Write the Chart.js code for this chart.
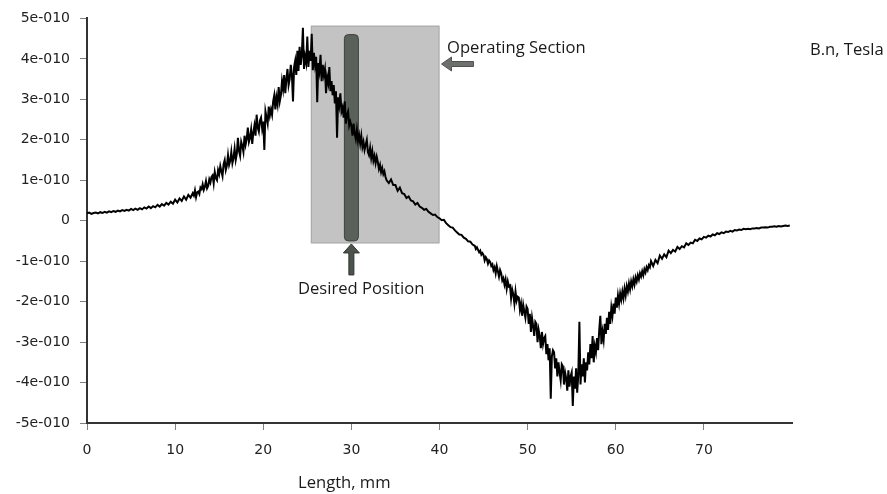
<!DOCTYPE html>
<html>
<head>
<meta charset="utf-8">
<script src="https://cdn.jsdelivr.net/npm/chart.js@4.4.1/dist/chart.umd.min.js"></script>
<style>
  html, body { margin: 0; padding: 0; background: #ffffff; }
  #wrap { width: 887px; height: 494px; position: relative; }
</style>
</head>
<body>
<div id="wrap"><canvas id="c" width="887" height="494"></canvas></div>
<script>
// Normal flux density B.n along the part, in units of 1e-10 T.
// Quiet stretches are sampled every 0.25 mm, the noisy stretches every 0.125 mm.

// 0 – 12 mm, step 0.25
const bnLeadIn = [
  0.18, 0.20, 0.17, 0.19,   0.20, 0.18, 0.21, 0.19,   0.22, 0.20, 0.23, 0.21,
  0.24, 0.22, 0.25, 0.23,   0.26, 0.24, 0.27, 0.25,   0.29, 0.26, 0.30, 0.27,
  0.31, 0.28, 0.33, 0.30,   0.35, 0.31, 0.36, 0.33,   0.39, 0.35, 0.41, 0.37,
  0.44, 0.40, 0.47, 0.42,   0.52, 0.45, 0.55, 0.49,   0.60, 0.52, 0.64, 0.57
];
// 12 – 34 mm, step 0.125 (positive peak)
const bnPeak = [
  0.68, 0.62, 0.75, 0.58, 0.70, 0.72, 0.66, 0.82,
  0.78, 0.90, 0.76, 0.84, 0.98, 0.80, 0.86, 1.02,
  0.94, 1.08, 1.12, 0.92, 1.20, 1.05, 1.00, 1.25,
  1.15, 1.35, 1.22, 1.10, 1.40, 1.50, 1.25, 1.36,
  1.62, 1.38, 1.48, 1.70, 1.42, 1.55, 1.78, 1.50,
  1.65, 2.05, 1.72, 1.60, 1.95, 1.85, 1.70, 2.10,
  1.88, 2.02, 2.30, 1.95, 2.05, 2.25, 1.90, 2.18,
  2.35, 2.10, 2.62, 2.30, 2.20, 2.48, 2.55, 2.28,
  2.45, 1.75, 2.70, 2.55, 2.40, 2.82, 2.60, 2.75,
  2.62, 2.95, 3.10, 2.75, 3.05, 2.88, 3.30, 2.95,
  3.10, 3.45, 3.25, 3.60, 3.15, 3.50, 3.75, 3.35,
  3.50, 3.85, 3.62, 2.95, 3.80, 3.95, 3.60, 4.20,
  3.70, 4.30, 3.85, 4.10, 4.77, 3.75, 4.05, 3.90,
  4.55, 3.80, 4.20, 3.95, 4.62, 3.72, 4.15, 3.85,
  4.05, 2.93, 3.90, 3.70, 4.10, 3.45, 3.85, 3.60,
  3.75, 3.15, 3.55, 3.40, 3.80, 3.20, 3.45, 3.10,
  3.35, 2.90, 3.20, 2.05, 3.05, 2.85, 3.15, 2.70,
  2.80, 2.55, 2.95, 2.40, 2.62, 2.70, 2.35, 2.45,
  2.35, 2.10, 2.40, 2.15, 2.02, 2.25, 1.98, 2.12,
  1.90, 2.10, 1.82, 1.95, 1.75, 1.88, 2.00, 1.70,
  1.62, 1.80, 1.55, 1.72, 1.48, 1.60, 1.42, 1.58,
  1.45, 1.28, 1.38, 1.20, 1.30, 1.15, 1.22, 1.08
];
// 34 – 44 mm, step 0.25 (zero crossing)
const bnCrossing = [
  1.00, 0.93, 1.02, 0.88,   0.88, 0.74, 0.82, 0.68,   0.66, 0.56, 0.60, 0.50,
  0.48, 0.40, 0.44, 0.35,   0.32, 0.27, 0.29, 0.22,   0.18, 0.14, 0.15, 0.09,
  0.06, 0.01, 0.02, -0.06,  -0.11, -0.16, -0.17, -0.24,  -0.29, -0.34, -0.35, -0.42,
  -0.45, -0.51, -0.52, -0.59
];
// 44 – 64 mm, step 0.125 (negative trough)
const bnTrough = [
  -0.62, -0.70, -0.66, -0.72, -0.78, -0.74, -0.84, -0.80,
  -0.85, -0.98, -0.90, -0.95, -1.06, -0.98, -1.02, -1.12,
  -1.08, -1.22, -1.15, -1.30, -1.12, -1.25, -1.38, -1.22,
  -1.30, -1.48, -1.42, -1.58, -1.45, -1.68, -1.50, -1.62,
  -1.60, -1.92, -1.70, -1.82, -2.05, -1.75, -1.98, -1.88,
  -1.90, -2.20, -2.05, -2.35, -2.08, -2.25, -2.40, -2.12,
  -2.18, -2.55, -2.30, -2.75, -2.40, -2.60, -2.85, -2.50,
  -2.55, -3.00, -2.70, -2.85, -3.15, -2.75, -3.05, -2.90,
  -2.85, -3.30, -3.05, -3.45, -3.15, -4.40, -3.35, -3.20,
  -3.25, -3.65, -3.40, -3.85, -3.50, -3.75, -3.95, -3.55,
  -3.60, -4.05, -3.75, -3.90, -4.20, -3.70, -4.10, -3.85,
  -3.75, -4.58, -3.85, -4.15, -3.65, -4.25, -3.80, -2.50,
  -4.05, -3.55, -3.85, -3.40, -4.00, -3.50, -3.70, -3.25,
  -3.55, -3.05, -3.40, -2.85, -3.50, -3.10, -3.25, -2.90,
  -3.20, -2.70, -2.35, -3.05, -2.75, -2.95, -2.55, -2.80,
  -2.40, -2.70, -2.25, -2.55, -2.15, -2.35, -2.05, -2.30,
  -1.90, -2.15, -1.85, -2.05, -1.80, -1.95, -1.75, -1.92,
  -1.68, -1.85, -1.62, -1.75, -1.55, -1.70, -1.50, -1.62,
  -1.45, -1.58, -1.40, -1.50, -1.35, -1.45, -1.30, -1.38,
  -1.25, -1.35, -1.20, -1.28, -1.15, -1.22, -1.10, -1.15
];
// 64 – 80 mm, step 0.25 (recovery tail)
const bnTail = [
  -1.00, -1.12, -0.97, -1.05,  -0.86, -0.94, -0.83, -0.90,
  -0.74, -0.80, -0.72, -0.76,  -0.65, -0.70, -0.63, -0.66,  -0.56, -0.60, -0.54, -0.56,
  -0.47, -0.50, -0.44, -0.46,  -0.40, -0.42, -0.37, -0.39,  -0.34, -0.36, -0.31, -0.33,
  -0.29, -0.31, -0.27, -0.28,  -0.25, -0.27, -0.23, -0.24,  -0.22, -0.23, -0.20, -0.21,
  -0.20, -0.21, -0.19, -0.19,  -0.18, -0.19, -0.17, -0.17,  -0.16, -0.17, -0.15, -0.15,
  -0.14, -0.15, -0.13, -0.14,  -0.13, -0.12, -0.13, -0.12
];

// Where each stretch starts (mm) and its sample spacing (mm)
const segmentStarts = [0, 12, 34, 44, 64];
const segmentSteps = [0.25, 0.125, 0.25, 0.125, 0.25];
const segmentValues = [bnLeadIn, bnPeak, bnCrossing, bnTrough, bnTail];

// Axis ranges and tick values
const xTicks = [0, 10, 20, 30, 40, 50, 60, 70];
const xMax = 80;
const yTicks = [5, 4, 3, 2, 1, 0, -1, -2, -3, -4, -5];

// Highlighted regions (mm, and 1e-10 T)
const operatingSection = { from: 25.4, to: 40, top: 4.82, bottom: -0.56 };
const desiredPosition = { at: 30, top: 4.6, bottom: -0.5 };

const points = [];
segmentValues.forEach((vals, s) => {
  vals.forEach((v, i) => points.push({ x: segmentStarts[s] + i * segmentSteps[s], y: v }));
});

const labelFont = '"Open Sans", "Liberation Sans", sans-serif';

function arrowUp(ctx, x, tipY, tailY) {
  const headH = 9, headW = 8, shaft = 2.5;
  ctx.beginPath();
  ctx.moveTo(x, tipY);
  ctx.lineTo(x + headW, tipY + headH);
  ctx.lineTo(x + shaft, tipY + headH);
  ctx.lineTo(x + shaft, tailY);
  ctx.lineTo(x - shaft, tailY);
  ctx.lineTo(x - shaft, tipY + headH);
  ctx.lineTo(x - headW, tipY + headH);
  ctx.closePath();
  ctx.fillStyle = '#4c534c';
  ctx.strokeStyle = '#2f342f';
  ctx.lineWidth = 1;
  ctx.fill();
  ctx.stroke();
}

function arrowLeft(ctx, tipX, y, tailX) {
  const headW = 10, headH = 7, shaft = 2.5;
  ctx.beginPath();
  ctx.moveTo(tipX, y);
  ctx.lineTo(tipX + headW, y - headH);
  ctx.lineTo(tipX + headW, y - shaft);
  ctx.lineTo(tailX, y - shaft);
  ctx.lineTo(tailX, y + shaft);
  ctx.lineTo(tipX + headW, y + shaft);
  ctx.lineTo(tipX + headW, y + headH);
  ctx.closePath();
  ctx.fillStyle = '#6e706e';
  ctx.strokeStyle = '#505250';
  ctx.lineWidth = 1;
  ctx.fill();
  ctx.stroke();
}

const regionsPlugin = {
  id: 'regions',
  beforeDatasetsDraw(chart) {
    const { ctx, scales: { x, y } } = chart;
    ctx.save();
    // operating section box
    const bx0 = x.getPixelForValue(operatingSection.from);
    const bx1 = x.getPixelForValue(operatingSection.to);
    const by0 = y.getPixelForValue(operatingSection.top);
    const by1 = y.getPixelForValue(operatingSection.bottom);
    ctx.fillStyle = '#c3c3c3';
    ctx.fillRect(bx0, by0, bx1 - bx0, by1 - by0);
    ctx.strokeStyle = '#a9a9a9';
    ctx.lineWidth = 1;
    ctx.strokeRect(bx0 + 0.5, by0 + 0.5, bx1 - bx0 - 1, by1 - by0 - 1);
    // desired position bar
    const cx = x.getPixelForValue(desiredPosition.at);
    const t = y.getPixelForValue(desiredPosition.top);
    const b = y.getPixelForValue(desiredPosition.bottom);
    const w = 14;
    ctx.beginPath();
    ctx.roundRect(cx - w / 2, t, w, b - t, 4);
    ctx.fillStyle = '#5a605a';
    ctx.fill();
    ctx.strokeStyle = '#3e423e';
    ctx.stroke();
    ctx.restore();
  },
  afterDraw(chart) {
    const { ctx, scales: { x, y } } = chart;
    ctx.save();
    const cx = x.getPixelForValue(desiredPosition.at);
    const barBottom = y.getPixelForValue(desiredPosition.bottom);
    arrowUp(ctx, cx, barBottom + 3, barBottom + 34);
    const boxRight = x.getPixelForValue(operatingSection.to);
    arrowLeft(ctx, boxRight + 2, 64, boxRight + 34);

    ctx.fillStyle = '#1a1a1a';
    ctx.font = '16.6px ' + labelFont;
    ctx.textBaseline = 'alphabetic';
    ctx.textAlign = 'left';
    ctx.fillText('Operating Section', 447, 53);
    ctx.fillText('Desired Position', 298, 294);
    ctx.fillText('Length, mm', 298, 488);
    ctx.fillText('B.n, Tesla', 810, 55);
    ctx.restore();
  }
};

const tickFont = { family: '"DejaVu Sans", Verdana, sans-serif', size: 14 };

new Chart(document.getElementById('c'), {
  type: 'line',
  data: {
    datasets: [{
      data: points,
      borderColor: '#000000',
      borderWidth: 2,
      pointRadius: 0,
      tension: 0,
      fill: false
    }]
  },
  options: {
    responsive: false,
    animation: false,
    devicePixelRatio: 1,
    layout: { padding: { top: 15, right: 95, left: 0, bottom: 0 } },
    plugins: { legend: { display: false }, tooltip: { enabled: false } },
    scales: {
      x: {
        type: 'linear',
        min: 0,
        max: xMax,
        afterBuildTicks(scale) { scale.ticks = xTicks.map(v => ({ value: v })); },
        afterFit(scale) { scale.height = 71; },
        grid: { display: true, drawOnChartArea: false, drawTicks: true, tickLength: 7, color: '#808080' },
        border: { display: true, color: '#333333', width: 2 },
        ticks: { font: tickFont, color: '#222222', padding: 12, maxRotation: 0 }
      },
      y: {
        type: 'linear',
        min: -5,
        max: 5,
        afterBuildTicks(scale) { scale.ticks = yTicks.map(v => ({ value: v })); },
        afterFit(scale) { scale.width = 87; },
        grid: { display: true, drawOnChartArea: false, drawTicks: true, tickLength: 7, color: '#808080' },
        border: { display: true, color: '#333333', width: 2 },
        ticks: {
          font: tickFont,
          color: '#222222',
          padding: 10,
          callback: v => (v === 0 ? '0' : v + 'e-010')
        }
      }
    }
  },
  plugins: [regionsPlugin]
});
</script>
</body>
</html>
